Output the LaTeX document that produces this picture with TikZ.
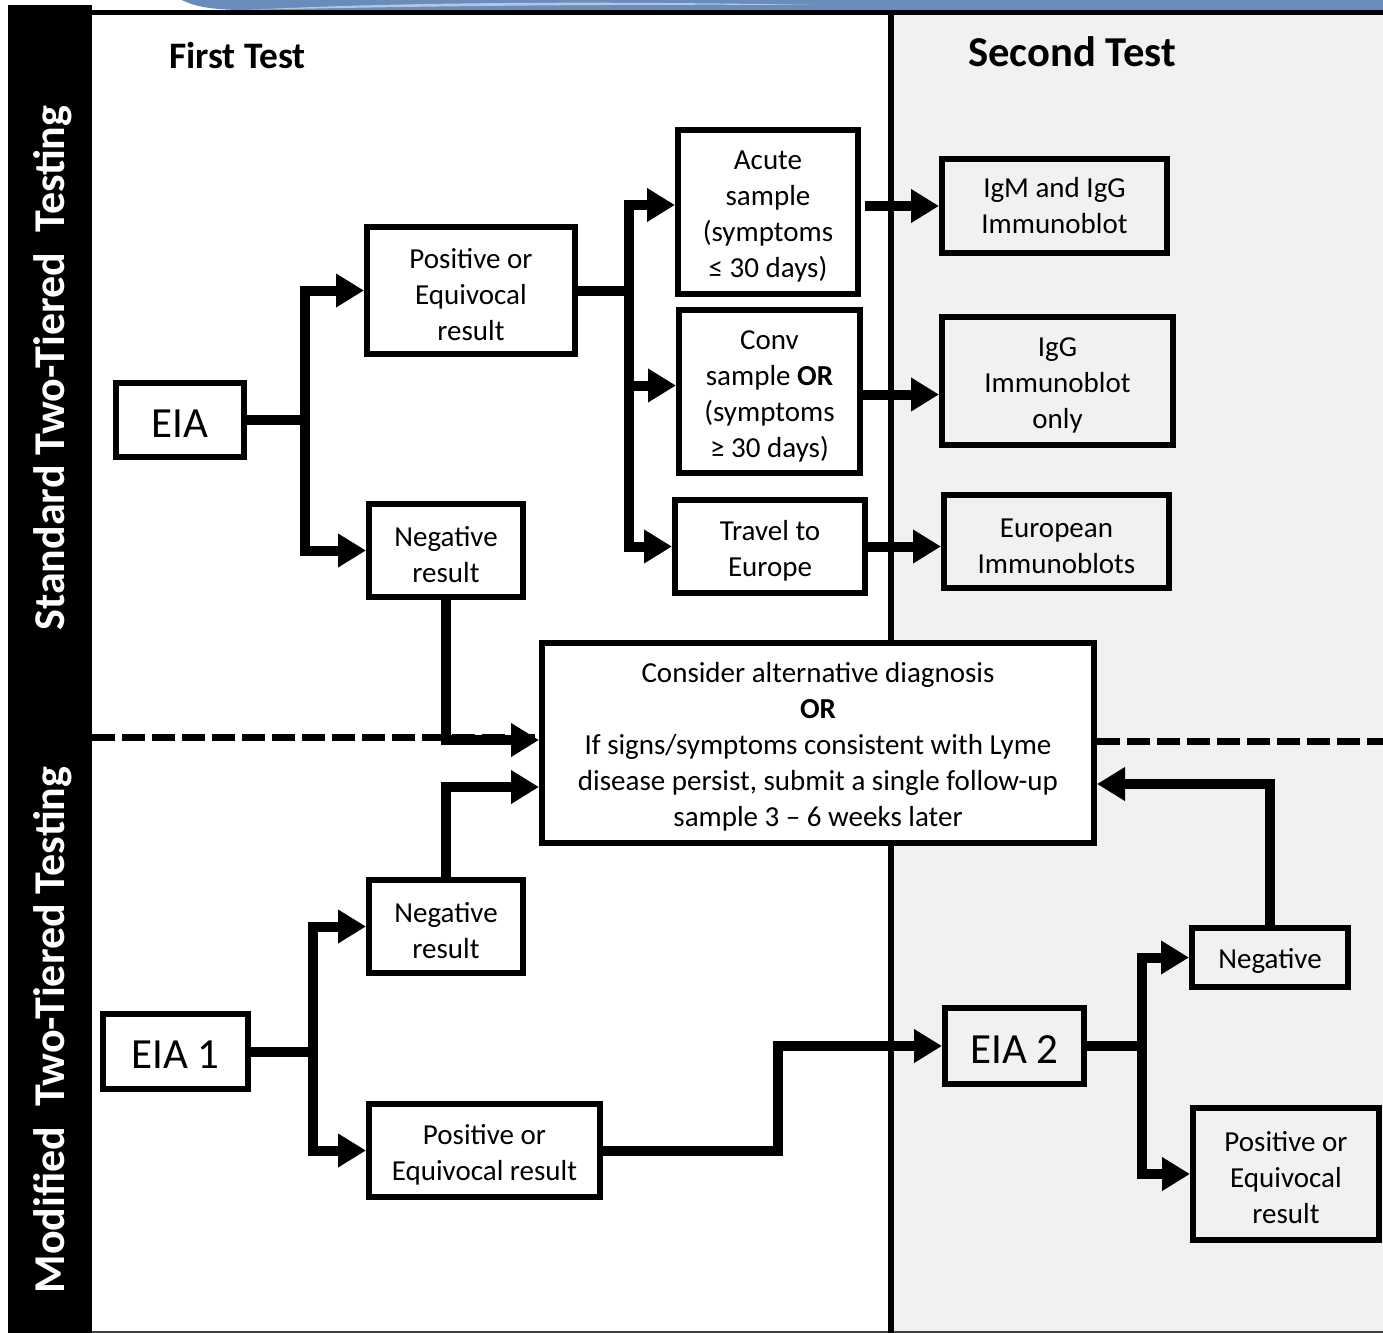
\documentclass[tikz,border=0pt]{standalone}
\usepackage{fontspec}
\setmainfont{Carlito}
\usetikzlibrary{arrows.meta}
\definecolor{panelgray}{HTML}{F1F1F1}
\definecolor{slideblue}{HTML}{6A8CBA}
\definecolor{slidelight}{HTML}{B4C6DE}
% raises the top of the first text line so the text sits a little lower in its box
\newcommand{\firstline}{\rule{0pt}{14pt}}

\begin{document}
\begin{tikzpicture}[x=0.5pt,y=-0.5pt,
  box/.style={draw=black, line width=3pt, align=center, inner sep=0pt,
    font=\fontsize{14.5}{18}\selectfont},
  bigbox/.style={draw=black, line width=3pt, align=center, inner sep=0pt,
    font=\fontsize{21.5}{24}\selectfont},
  conn/.style={line width=5pt, line join=miter, -{Triangle[length=14pt,width=16pt]}},
  tierline/.style={line width=3.5pt, dash pattern=on 11.5pt off 3.5pt},
  heading/.style={font=\bfseries\fontsize{#1}{#1}\selectfont, inner sep=0pt},
  sidelabel/.style={rotate=90, text=white, inner sep=0pt,
    font=\bfseries\fontsize{22}{24}\selectfont}
]
\useasboundingbox (0,0) rectangle (1383,1333);

% page background and the two test columns
\fill[white] (0,0) rectangle (1383,1333);
\fill[panelgray] (891,12) rectangle (1383,1331);

% strip of the slide background along the top edge
\fill[slideblue] (182,0) .. controls (195,7) and (215,10) .. (245,10) -- (1383,10) -- (1383,0) -- cycle;
\fill[slidelight] (245,10) .. controls (400,2) and (600,1) .. (820,5)
  .. controls (600,4) and (420,6) .. (245,10) -- cycle;

% frame: side bar, top rule, bottom rule, column divider
\fill[black] (8,5) rectangle (92,1333);
\draw[line width=2.5pt] (67,12.5) -- (1383,12.5);
\draw[line width=1pt, black!75] (92,1331.5) -- (1383,1331.5);
\draw[line width=3pt] (891,12) -- (891,1333);

% column headings and row labels
\node[heading=18.7] (firsttest) at (237.5,56) {First Test};
\node[heading=21.3] (secondtest) at (1072,52) {Second Test};
\node[sidelabel] (stdlabel) at (53,368) {Standard Two-Tiered\ \ Testing};
\node[sidelabel] (modlabel) at (53,1030) {Modified\ \ Two-Tiered Testing};

% dashed separator between the two algorithms
\coordinate (dashL) at (92,737);
\coordinate (dashR) at (1383,741);

% standard two-tiered testing
\node[bigbox, minimum width=64pt, minimum height=37pt] (eia) at (180,420) {\rule{0pt}{17pt}EIA};
\node[box, minimum width=104pt, minimum height=63.5pt] (pos1) at (471,290.5) {\firstline Positive or\\Equivocal\\result};
\node[box, minimum width=77pt, minimum height=46.5pt] (neg1) at (446,550.5) {\firstline Negative\\result};
\node[box, minimum width=90pt, minimum height=82pt] (acute) at (768,212) {\firstline Acute\\sample\\(symptoms\\≤ 30 days)};
\node[box, minimum width=90.5pt, minimum height=81.5pt] (conv) at (769.5,391.5) {\firstline Conv\\sample \textbf{OR}\\(symptoms\\≥ 30 days)};
\node[box, minimum width=95pt, minimum height=46.5pt] (travel) at (770,546.5) {\firstline Travel to\\Europe};
\node[box, minimum width=112.5pt, minimum height=47pt] (igm) at (1054.5,206) {IgM and IgG\\Immunoblot};
\node[box, minimum width=115.5pt, minimum height=64pt] (igg) at (1057.5,381) {\firstline IgG\\Immunoblot\\only};
\node[box, minimum width=112.5pt, minimum height=46.5pt] (euro) at (1056.5,541.5) {\firstline European\\Immunoblots};

% shared outcome
\draw[tierline] (dashL) -- (dashL -| 539,0);
\draw[tierline] (1097,0 |- dashR) -- (dashR);
\node[box, fill=white, minimum width=276pt, minimum height=100pt] (consider) at (818,743)
  {\firstline Consider alternative diagnosis\\\textbf{OR}\\If signs/symptoms consistent with Lyme\\disease persist, submit a single follow-up\\sample 3 – 6 weeks later};

% modified two-tiered testing
\node[box, minimum width=77pt, minimum height=46.5pt] (neg2) at (446,926.5) {\firstline Negative\\result};
\node[bigbox, minimum width=72.5pt, minimum height=37.5pt] (eia1) at (175.5,1051.5) {\rule{0pt}{17pt}EIA 1};
\node[box, minimum width=115.5pt, minimum height=46.5pt] (pos2) at (484.5,1150.5) {\firstline Positive or\\Equivocal result};
\node[bigbox, minimum width=69.5pt, minimum height=38pt] (eia2) at (1014.5,1046) {\rule{0pt}{17pt}EIA 2};
\node[box, minimum width=78pt, minimum height=29.5pt] (negR) at (1270,957.5) {\rule{0pt}{13pt}Negative};
\node[box, minimum width=93pt, minimum height=66pt] (posR) at (1286,1174) {\firstline Positive or\\Equivocal\\result};

% connectors, standard algorithm
\draw[conn] (eia.east) -- ++(58,0) |- (pos1.west);
\draw[conn] (eia.east) -- ++(58,0) |- (neg1.west);
\draw[conn] (pos1.east) -- ++(51,0) |- ([yshift=3.5pt]acute.west);
\draw[conn] (pos1.east) -- ++(51,0) |- ([yshift=3pt]conv.west);
\draw[conn] (pos1.east) -- ++(51,0) |- (travel.west);
\draw[conn, shorten <=2pt] (acute.east |- igm.west) -- (igm.west);
\draw[conn] ([yshift=-1.5pt]conv.east) -- ([yshift=-1.5pt]conv.east -| igg.west);
\draw[conn] (travel.east) -- (travel.east -| euro.west);
\draw[conn] (neg1.south) |- ([yshift=1.5pt]consider.west);

% connectors, modified algorithm
\draw[conn] (eia1.east) -- ++(62,0) |- (neg2.west);
\draw[conn] (eia1.east) -- ++(62,0) |- (pos2.west);
\draw[conn] (neg2.north) |- ([yshift=-22pt]consider.west);
\draw[conn] (pos2.east) -- ++(175,0) |- (eia2.west);
\draw[conn] (eia2.east) -- ++(55,0) |- (negR.west);
\draw[conn] (eia2.east) -- ++(55,0) |- (posR.west);
\draw[conn] (negR.north) |- ([yshift=-20.5pt]consider.east);
\end{tikzpicture}
\end{document}
